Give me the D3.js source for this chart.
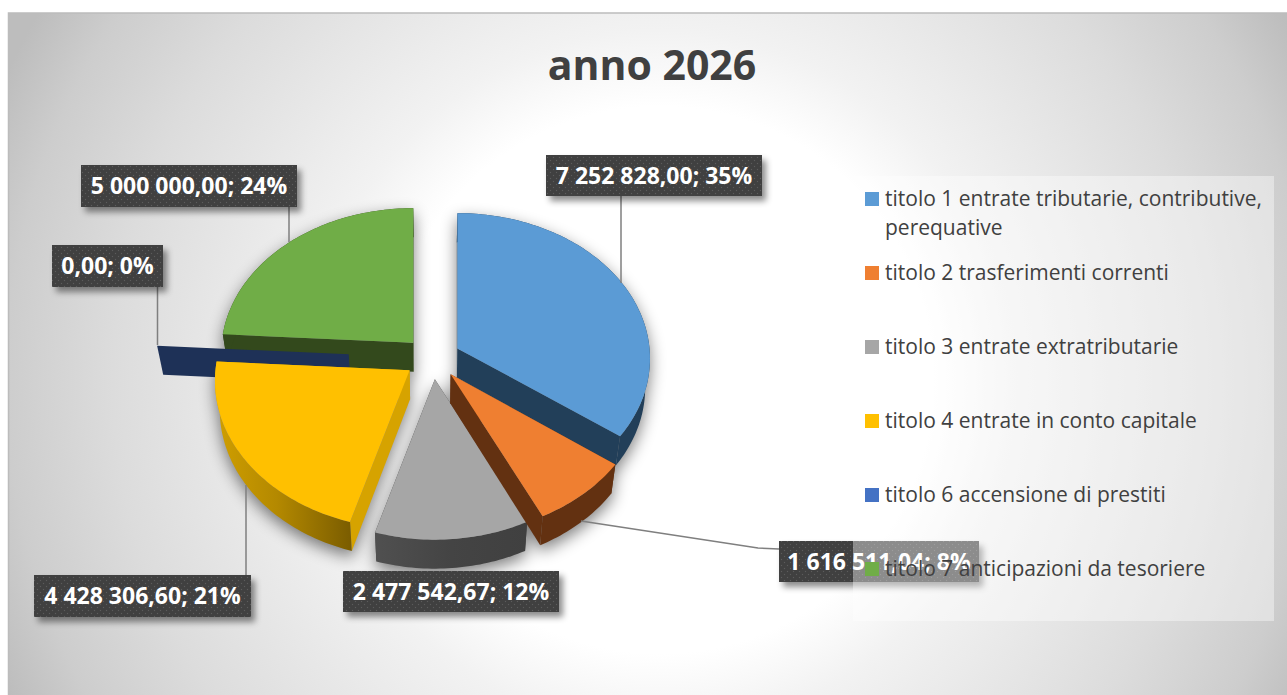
<!DOCTYPE html>
<html><head><meta charset="utf-8">
<script src="https://cdn.jsdelivr.net/npm/d3@7/dist/d3.min.js"></script>
<style>html,body{margin:0;padding:0;background:#fff;overflow:hidden}svg{display:block}</style>
</head><body><svg id="c" width="1287" height="695"></svg>
<script>
const categories=["titolo 1 entrate tributarie, contributive, perequative","titolo 2 trasferimenti correnti","titolo 3 entrate extratributarie","titolo 4 entrate in conto capitale","titolo 6 accensione di prestiti","titolo 7 anticipazioni da tesoriere"];
const values=[7252828.00,1616511.04,2477542.67,4428306.60,0,5000000.00];
const explosion=[0.145,0.145,0.145,0.145,0.435,0.145];
const topColors=["#5b9bd5","#ef7f31","#a6a6a6","#ffc000","#4472c4","#70ad47"];
const wallColors=["#223f59","#633111","#434343","#d6a300","#1e3157","#33491c"];
const legendLines=[["titolo 1 entrate tributarie, contributive,","perequative"],["titolo 2 trasferimenti correnti"],["titolo 3 entrate extratributarie"],["titolo 4 entrate in conto capitale"],["titolo 6 accensione di prestiti"],["titolo 7 anticipazioni da tesoriere"]];
const title="anno 2026";
// label boxes [x,y,w,h] and leader polylines, in reference pixels
const labelBoxes=[[546,155,216,41],[779,541,200,41],[343,571,216,41],[34,575,217,42],[52,245,111,42],[81,165,216,42]];
const leaders=[[[621,196],[621,283]],[[581,521],[758,548],[779,549]],[],[[246,575],[246,485]],[[157.5,287],[157.5,345]],[[289,207],[289,242]]];

const svg=d3.select("#c"), defs=svg.append("defs");
const W=1287,H=695,C={x:432.5,y:358},R=193,Ry=146,P=0.07,DEPTH=29,TAPER=0.978;
// o = explosion offset on the disc, d = point relative to the slice apex
const project=(ou,ov,du,dv)=>{const k=1/(1-P*(ov+dv));return [C.x+R*(ou+du*k),C.y+Ry*(ov+dv)*k];};
const FONT="'Open Sans','Noto Sans',sans-serif";

const bg=defs.append("radialGradient").attr("id","bg").attr("gradientUnits","userSpaceOnUse").attr("cx",660).attr("cy",380).attr("r",760);
[[0,"#ffffff"],[0.36,"#ffffff"],[0.46,"#f2f2f2"],[0.72,"#dcdcdc"],[0.86,"#cdcdcd"],[0.95,"#bdbdbd"],[1,"#bdbdbd"]].forEach(s=>bg.append("stop").attr("offset",s[0]).attr("stop-color",s[1]));
const shadow=defs.append("filter").attr("id","sh").attr("x","-30%").attr("y","-30%").attr("width","160%").attr("height","160%");
shadow.append("feGaussianBlur").attr("stdDeviation",8);
const ls=defs.append("filter").attr("id","ls").attr("x","-10%").attr("y","-30%").attr("width","120%").attr("height","170%");
ls.append("feDropShadow").attr("dx",4).attr("dy",5).attr("stdDeviation",3).attr("flood-color","#000").attr("flood-opacity",.45);
const pat=defs.append("pattern").attr("id","dots").attr("patternUnits","userSpaceOnUse").attr("width",6).attr("height",6);
pat.append("rect").attr("width",6).attr("height",6).attr("fill","#3f3f3f");
pat.append("circle").attr("cx",1.5).attr("cy",1.5).attr("r",.7).attr("fill","#5c5c5c");
pat.append("circle").attr("cx",4.5).attr("cy",4.5).attr("r",.7).attr("fill","#5c5c5c");
const yg=defs.append("linearGradient").attr("id","ywall");
[[0,"#d09f00"],[.45,"#b48900"],[1,"#7a5c00"]].forEach(s=>yg.append("stop").attr("offset",s[0]).attr("stop-color",s[1]));
const gg=defs.append("linearGradient").attr("id","gwall");
[[0,"#505050"],[.5,"#444"],[1,"#404040"]].forEach(s=>gg.append("stop").attr("offset",s[0]).attr("stop-color",s[1]));

svg.append("rect").attr("x",8.5).attr("y",13).attr("width",W).attr("height",H).attr("fill","url(#bg)").attr("stroke","#bcbcbc").attr("stroke-width",1.5);

const pie=d3.pie().sort(null).value(d=>d)(values);
const line=d3.line();
const slices=pie.map((p,i)=>{
  const m=(p.startAngle+p.endAngle)/2,e=explosion[i];
  const ou=e*Math.sin(m),ov=-e*Math.cos(m);
  const n=Math.max(2,Math.ceil((p.endAngle-p.startAngle)/0.02));
  const arc=d3.range(n+1).map(j=>{const a=p.startAngle+(p.endAngle-p.startAngle)*j/n;return project(ou,ov,Math.sin(a),-Math.cos(a));});
  return {i,apex:project(ou,ov,0,0),arc,p};
});
const down=q=>[C.x+(q[0]-C.x)*TAPER,q[1]+DEPTH];
const topPath=s=>line([s.apex,...s.arc])+"Z";
const wallPath=s=>line([...s.arc,...s.arc.slice().reverse().map(down)])+"Z";
const facePath=(s,q)=>line([s.apex,q,down(q),down(s.apex)])+"Z";
const hull=s=>line(d3.polygonHull([s.apex,...s.arc,down(s.apex),...s.arc.map(down)]))+"Z";

// soft shadow layer
const real=slices.filter(s=>values[s.i]>0);
svg.append("g").attr("filter","url(#sh)").attr("transform","translate(0,6)").attr("opacity",.5)
  .selectAll("path").data(real).join("path").attr("d",hull).attr("fill","#000");

const order=[5,0,4,3,2,1];
const g=svg.append("g");
order.forEach(i=>{
  const s=slices[i],col=wallColors[i];
  const wallFill=i===3?"url(#ywall)":i===2?"url(#gwall)":col;
  if(values[i]>0){
    g.append("path").attr("d",facePath(s,s.arc[0])).attr("fill",col);
    g.append("path").attr("d",facePath(s,s.arc[s.arc.length-1])).attr("fill",col);
    g.append("path").attr("d",wallPath(s)).attr("fill",wallFill);
    g.append("path").attr("d",topPath(s)).attr("fill",topColors[i]);
  } else {
    g.append("path").attr("d",facePath(s,s.arc[0])).attr("fill",col);
  }
});

// leaders and labels
const fmt=d3.formatLocale({decimal:",",thousands:"\u00a0",grouping:[3],currency:["",""]}).format(",.2f");
const total=d3.sum(values);
svg.append("g").selectAll("path").data(leaders.filter(l=>l.length)).join("path")
  .attr("d",d=>line(d)).attr("fill","none").attr("stroke","#7f7f7f").attr("stroke-width",1.5);
const lab=svg.append("g").attr("font-family",FONT).attr("font-weight",700).attr("font-size",23).attr("fill","#fff");
values.forEach((v,i)=>{
  const b=labelBoxes[i];
  lab.append("rect").attr("x",b[0]).attr("y",b[1]).attr("width",b[2]).attr("height",b[3]).attr("fill","url(#dots)").attr("filter","url(#ls)");
  lab.append("text").attr("x",b[0]+b[2]/2).attr("y",b[1]+b[3]/2+8).attr("text-anchor","middle")
    .text(fmt(v)+"; "+Math.round(v/total*100)+"%");
});

// title
svg.append("text").attr("x",652).attr("y",80).attr("text-anchor","middle").attr("font-family",FONT).attr("font-weight",700).attr("font-size",41).attr("fill","#404040").text(title);

// legend
svg.append("rect").attr("x",853).attr("y",176).attr("width",421).attr("height",445).attr("fill","#fff").attr("fill-opacity",.4);
const leg=svg.append("g").attr("font-family",FONT).attr("font-size",21).attr("fill","#404040");
const legY=d3.scaleLinear().domain([0,5]).range([206,576]);
categories.forEach((c,i)=>{
  const y=legY(i);
  const sw=i===4?"#4472c4":topColors[i];
  leg.append("rect").attr("x",865).attr("y",y-14).attr("width",14).attr("height",14).attr("fill",sw);
  legendLines[i].forEach((t,j)=>leg.append("text").attr("x",885).attr("y",y+j*29).text(t));
});
</script></body></html>
